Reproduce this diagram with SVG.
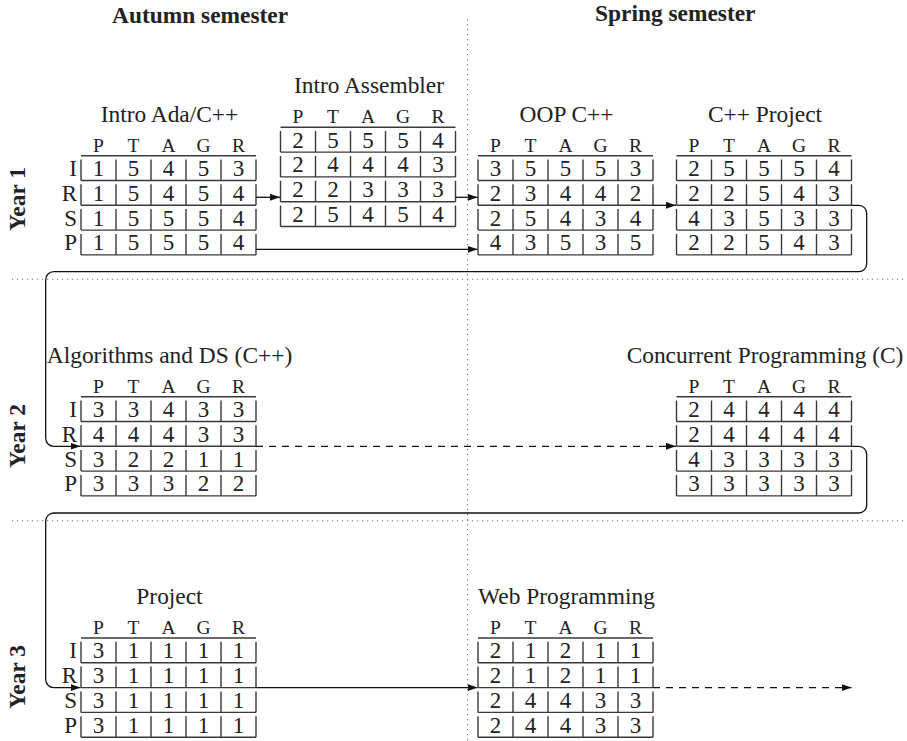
<svg xmlns="http://www.w3.org/2000/svg" xmlns:xlink="http://www.w3.org/1999/xlink" width="907" height="741" viewBox="0 0 907 741">
  <style>
    .t { font-family: "Liberation Serif", "Times New Roman", serif; fill: #222; }
    .sem { font-size: 23.4px; font-weight: bold; }
    .year { font-size: 23.4px; font-weight: bold; text-anchor: middle; }
    .title { font-size: 23.4px; text-anchor: middle; }
    .num { font-size: 23px; text-anchor: middle; }
    .dot { stroke: #777; stroke-width: 1.1; fill: none; stroke-dasharray: 1.2 3.8; }
    .conn { stroke: #111; stroke-width: 1.3; fill: none; marker-end: url(#arr); }
    .dash { stroke-dasharray: 7 6; }
  </style>
  <defs>
    <marker id="arr" markerWidth="10" markerHeight="7" refX="10" refY="3.5" orient="auto" markerUnits="userSpaceOnUse">
      <path d="M0,0 L10,3.5 L0,7 z" fill="#111"/>
    </marker>
    <!-- 5 columns x 4 rows score grid; origin = left end of header rule -->
    <g id="grid" stroke="#3a3a3a" stroke-width="1.4" fill="none">
      <path d="M0,0 H175 M0,24.8 H175 M0,49.6 H175 M0,74.4 H175 M0,99.2 H175"/>
      <path d="M0,3.8 V24.8 M35,3.8 V24.8 M70,3.8 V24.8 M105,3.8 V24.8 M140,3.8 V24.8 M175,3.8 V24.8"/>
      <path d="M0,28.6 V49.6 M35,28.6 V49.6 M70,28.6 V49.6 M105,28.6 V49.6 M140,28.6 V49.6 M175,28.6 V49.6"/>
      <path d="M0,53.4 V74.4 M35,53.4 V74.4 M70,53.4 V74.4 M105,53.4 V74.4 M140,53.4 V74.4 M175,53.4 V74.4"/>
      <path d="M0,78.2 V99.2 M35,78.2 V99.2 M70,78.2 V99.2 M105,78.2 V99.2 M140,78.2 V99.2 M175,78.2 V99.2"/>
    </g>
    <!-- column heads: P T A G R -->
    <g id="head" font-family="Liberation Serif, Times New Roman, serif" font-size="19.5" fill="#222" text-anchor="middle">
      <text x="17.5" y="-4">P</text>
      <text x="52.5" y="-4">T</text>
      <text x="87.5" y="-4">A</text>
      <text x="122.5" y="-4">G</text>
      <text x="157.5" y="-4">R</text>
    </g>
    <!-- row labels: I R S P -->
    <g id="rowlabels" font-family="Liberation Serif, Times New Roman, serif" font-size="23" fill="#222" text-anchor="end">
      <text x="-4" y="20.3">I</text>
      <text x="-4" y="45.1">R</text>
      <text x="-4" y="69.9">S</text>
      <text x="-4" y="94.7">P</text>
    </g>
  </defs>

  <!-- semester headings and year labels -->
  <text class="t sem" x="112" y="23">Autumn semester</text>
  <text class="t sem" x="595" y="21">Spring semester</text>
  <text class="t year" transform="translate(25,199) rotate(-90)">Year 1</text>
  <text class="t year" transform="translate(25,436) rotate(-90)">Year 2</text>
  <text class="t year" transform="translate(25,677) rotate(-90)">Year 3</text>

  <!-- separators -->
  <g id="separators">
    <path class="dot" d="M467.5,19 V741"/>
    <path class="dot" d="M12,279.3 H907"/>
    <path class="dot" d="M12,520.7 H907"/>
  </g>

  <!-- Year 1 -->
  <g id="intro-ada" transform="translate(81,155.7)">
    <text class="t title" x="88.5" y="-34">Intro Ada/C++</text>
    <use xlink:href="#head"/>
    <use xlink:href="#grid"/>
    <use xlink:href="#rowlabels"/>
    <g class="t num">
      <text x="17.5" y="20.3">1</text><text x="52.5" y="20.3">5</text><text x="87.5" y="20.3">4</text><text x="122.5" y="20.3">5</text><text x="157.5" y="20.3">3</text>
      <text x="17.5" y="45.1">1</text><text x="52.5" y="45.1">5</text><text x="87.5" y="45.1">4</text><text x="122.5" y="45.1">5</text><text x="157.5" y="45.1">4</text>
      <text x="17.5" y="69.9">1</text><text x="52.5" y="69.9">5</text><text x="87.5" y="69.9">5</text><text x="122.5" y="69.9">5</text><text x="157.5" y="69.9">4</text>
      <text x="17.5" y="94.7">1</text><text x="52.5" y="94.7">5</text><text x="87.5" y="94.7">5</text><text x="122.5" y="94.7">5</text><text x="157.5" y="94.7">4</text>
    </g>
  </g>

  <g id="intro-assembler" transform="translate(280.5,127.3)">
    <text class="t title" x="88.5" y="-34">Intro Assembler</text>
    <use xlink:href="#head"/>
    <use xlink:href="#grid"/>
    <g class="t num">
      <text x="17.5" y="20.3">2</text><text x="52.5" y="20.3">5</text><text x="87.5" y="20.3">5</text><text x="122.5" y="20.3">5</text><text x="157.5" y="20.3">4</text>
      <text x="17.5" y="45.1">2</text><text x="52.5" y="45.1">4</text><text x="87.5" y="45.1">4</text><text x="122.5" y="45.1">4</text><text x="157.5" y="45.1">3</text>
      <text x="17.5" y="69.9">2</text><text x="52.5" y="69.9">2</text><text x="87.5" y="69.9">3</text><text x="122.5" y="69.9">3</text><text x="157.5" y="69.9">3</text>
      <text x="17.5" y="94.7">2</text><text x="52.5" y="94.7">5</text><text x="87.5" y="94.7">4</text><text x="122.5" y="94.7">5</text><text x="157.5" y="94.7">4</text>
    </g>
  </g>

  <g id="oop-cpp" transform="translate(478,155.7)">
    <text class="t title" x="88.5" y="-34">OOP C++</text>
    <use xlink:href="#head"/>
    <use xlink:href="#grid"/>
    <g class="t num">
      <text x="17.5" y="20.3">3</text><text x="52.5" y="20.3">5</text><text x="87.5" y="20.3">5</text><text x="122.5" y="20.3">5</text><text x="157.5" y="20.3">3</text>
      <text x="17.5" y="45.1">2</text><text x="52.5" y="45.1">3</text><text x="87.5" y="45.1">4</text><text x="122.5" y="45.1">4</text><text x="157.5" y="45.1">2</text>
      <text x="17.5" y="69.9">2</text><text x="52.5" y="69.9">5</text><text x="87.5" y="69.9">4</text><text x="122.5" y="69.9">3</text><text x="157.5" y="69.9">4</text>
      <text x="17.5" y="94.7">4</text><text x="52.5" y="94.7">3</text><text x="87.5" y="94.7">5</text><text x="122.5" y="94.7">3</text><text x="157.5" y="94.7">5</text>
    </g>
  </g>

  <g id="cpp-project" transform="translate(676.5,155.7)">
    <text class="t title" x="88.5" y="-34">C++ Project</text>
    <use xlink:href="#head"/>
    <use xlink:href="#grid"/>
    <g class="t num">
      <text x="17.5" y="20.3">2</text><text x="52.5" y="20.3">5</text><text x="87.5" y="20.3">5</text><text x="122.5" y="20.3">5</text><text x="157.5" y="20.3">4</text>
      <text x="17.5" y="45.1">2</text><text x="52.5" y="45.1">2</text><text x="87.5" y="45.1">5</text><text x="122.5" y="45.1">4</text><text x="157.5" y="45.1">3</text>
      <text x="17.5" y="69.9">4</text><text x="52.5" y="69.9">3</text><text x="87.5" y="69.9">5</text><text x="122.5" y="69.9">3</text><text x="157.5" y="69.9">3</text>
      <text x="17.5" y="94.7">2</text><text x="52.5" y="94.7">2</text><text x="87.5" y="94.7">5</text><text x="122.5" y="94.7">4</text><text x="157.5" y="94.7">3</text>
    </g>
  </g>

  <!-- Year 2 -->
  <g id="algorithms-ds" transform="translate(81,396.7)">
    <text class="t title" x="88.5" y="-34">Algorithms and DS (C++)</text>
    <use xlink:href="#head"/>
    <use xlink:href="#grid"/>
    <use xlink:href="#rowlabels"/>
    <g class="t num">
      <text x="17.5" y="20.3">3</text><text x="52.5" y="20.3">3</text><text x="87.5" y="20.3">4</text><text x="122.5" y="20.3">3</text><text x="157.5" y="20.3">3</text>
      <text x="17.5" y="45.1">4</text><text x="52.5" y="45.1">4</text><text x="87.5" y="45.1">4</text><text x="122.5" y="45.1">3</text><text x="157.5" y="45.1">3</text>
      <text x="17.5" y="69.9">3</text><text x="52.5" y="69.9">2</text><text x="87.5" y="69.9">2</text><text x="122.5" y="69.9">1</text><text x="157.5" y="69.9">1</text>
      <text x="17.5" y="94.7">3</text><text x="52.5" y="94.7">3</text><text x="87.5" y="94.7">3</text><text x="122.5" y="94.7">2</text><text x="157.5" y="94.7">2</text>
    </g>
  </g>

  <g id="concurrent" transform="translate(676.5,396.7)">
    <text class="t title" x="88.5" y="-34">Concurrent Programming (C)</text>
    <use xlink:href="#head"/>
    <use xlink:href="#grid"/>
    <g class="t num">
      <text x="17.5" y="20.3">2</text><text x="52.5" y="20.3">4</text><text x="87.5" y="20.3">4</text><text x="122.5" y="20.3">4</text><text x="157.5" y="20.3">4</text>
      <text x="17.5" y="45.1">2</text><text x="52.5" y="45.1">4</text><text x="87.5" y="45.1">4</text><text x="122.5" y="45.1">4</text><text x="157.5" y="45.1">4</text>
      <text x="17.5" y="69.9">4</text><text x="52.5" y="69.9">3</text><text x="87.5" y="69.9">3</text><text x="122.5" y="69.9">3</text><text x="157.5" y="69.9">3</text>
      <text x="17.5" y="94.7">3</text><text x="52.5" y="94.7">3</text><text x="87.5" y="94.7">3</text><text x="122.5" y="94.7">3</text><text x="157.5" y="94.7">3</text>
    </g>
  </g>

  <!-- Year 3 -->
  <g id="project" transform="translate(81,638)">
    <text class="t title" x="88.5" y="-34">Project</text>
    <use xlink:href="#head"/>
    <use xlink:href="#grid"/>
    <use xlink:href="#rowlabels"/>
    <g class="t num">
      <text x="17.5" y="20.3">3</text><text x="52.5" y="20.3">1</text><text x="87.5" y="20.3">1</text><text x="122.5" y="20.3">1</text><text x="157.5" y="20.3">1</text>
      <text x="17.5" y="45.1">3</text><text x="52.5" y="45.1">1</text><text x="87.5" y="45.1">1</text><text x="122.5" y="45.1">1</text><text x="157.5" y="45.1">1</text>
      <text x="17.5" y="69.9">3</text><text x="52.5" y="69.9">1</text><text x="87.5" y="69.9">1</text><text x="122.5" y="69.9">1</text><text x="157.5" y="69.9">1</text>
      <text x="17.5" y="94.7">3</text><text x="52.5" y="94.7">1</text><text x="87.5" y="94.7">1</text><text x="122.5" y="94.7">1</text><text x="157.5" y="94.7">1</text>
    </g>
  </g>

  <g id="web-programming" transform="translate(478,638)">
    <text class="t title" x="88.5" y="-34">Web Programming</text>
    <use xlink:href="#head"/>
    <use xlink:href="#grid"/>
    <g class="t num">
      <text x="17.5" y="20.3">2</text><text x="52.5" y="20.3">1</text><text x="87.5" y="20.3">2</text><text x="122.5" y="20.3">1</text><text x="157.5" y="20.3">1</text>
      <text x="17.5" y="45.1">2</text><text x="52.5" y="45.1">1</text><text x="87.5" y="45.1">2</text><text x="122.5" y="45.1">1</text><text x="157.5" y="45.1">1</text>
      <text x="17.5" y="69.9">2</text><text x="52.5" y="69.9">4</text><text x="87.5" y="69.9">4</text><text x="122.5" y="69.9">3</text><text x="157.5" y="69.9">3</text>
      <text x="17.5" y="94.7">2</text><text x="52.5" y="94.7">4</text><text x="87.5" y="94.7">4</text><text x="122.5" y="94.7">3</text><text x="157.5" y="94.7">3</text>
    </g>
  </g>

  <!-- connectors -->
  <g id="connectors">
    <path class="conn" d="M256,197.3 H280"/>
    <path class="conn" d="M256,249.3 H477.5"/>
    <path class="conn" d="M455.5,197.3 H477.5"/>
    <path class="conn" d="M653,205.3 H676"/>
    <path class="conn" d="M851.5,205.3 H858.7 A8,8 0 0 1 866.7,213.3 V263.7 A8,8 0 0 1 858.7,271.7 H53.7 A8,8 0 0 0 45.7,279.7 V438.3 A8,8 0 0 0 53.7,446.3 H80.5"/>
    <path class="conn dash" d="M256,446.3 H676"/>
    <path class="conn" d="M851.5,446.3 H858.7 A8,8 0 0 1 866.7,454.3 V505 A8,8 0 0 1 858.7,513 H53.7 A8,8 0 0 0 45.7,521 V679.6 A8,8 0 0 0 53.7,687.6 H80.5"/>
    <path class="conn" d="M256,687.6 H477.5"/>
    <path class="conn dash" d="M653,687.6 H851.5"/>
  </g>
</svg>
